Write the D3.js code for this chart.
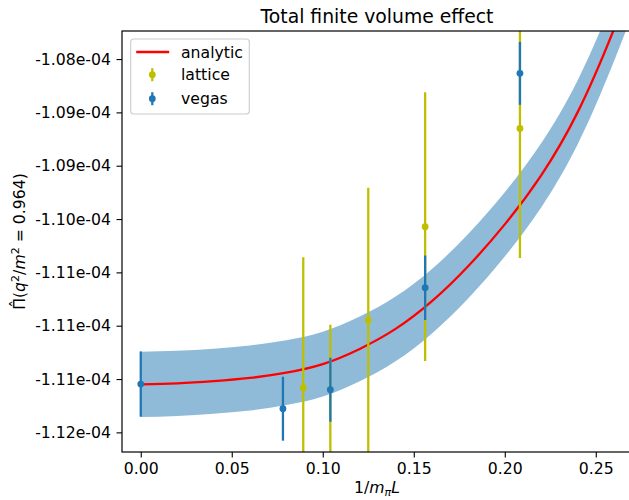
<!DOCTYPE html>
<html>
<head>
<meta charset="utf-8">
<script src="https://cdn.jsdelivr.net/npm/d3@7"></script>
<style>
  body { margin: 0; background: #fff; }
  svg { display: block; font-family: "DejaVu Sans", sans-serif; }
</style>
</head>
<body>
<svg id="chart" width="629" height="500"></svg>
<script>

  //============================================================
  // Data
  //------------------------------------------------------------

  var analyticX = [0, 0.02, 0.04, 0.06, 0.08, 0.10, 0.12, 0.14, 0.16, 0.18, 0.20, 0.22, 0.24, 0.26, 0.28]
    , analyticY = [-1.1155e-4, -1.1154e-4, -1.1152e-4, -1.1149e-4, -1.1144e-4, -1.1136e-4, -1.1122e-4,
                   -1.1103e-4, -1.1077e-4, -1.1044e-4, -1.1005e-4, -1.0959e-4, -1.0900e-4, -1.0822e-4, -1.0733e-4]
    , analyticErr = [3.06e-7, 3.06e-7, 3.05e-7, 3.05e-7, 3.04e-7, 3.04e-7, 3.03e-7,
                     3.03e-7, 3.02e-7, 3.02e-7, 3.01e-7, 3.01e-7, 3.00e-7, 3.00e-7, 3.00e-7]
    ;

  var latticeX = [0.089286, 0.104167, 0.125, 0.15625, 0.208333]
    , latticeY = [-1.11581e-4, -1.12220e-4, -1.10947e-4, -1.10072e-4, -1.09150e-4]
    , latticeErr = [1.222e-6, 1.230e-6, 1.240e-6, 1.260e-6, 1.216e-6]
    ;

  var vegasX = [0, 0.078125, 0.104167, 0.15625, 0.208333]
    , vegasY = [-1.11547e-4, -1.11778e-4, -1.11600e-4, -1.10644e-4, -1.08634e-4]
    , vegasErr = [3.06e-7, 3.00e-7, 3.00e-7, 3.02e-7, 2.95e-7]
    ;

  var xTicks = [0, 0.05, 0.10, 0.15, 0.20, 0.25]
    , yTicks = [-1.085e-4, -1.090e-4, -1.095e-4, -1.100e-4, -1.105e-4, -1.110e-4, -1.115e-4, -1.120e-4]
    , yTickLabels = ['-1.08e-04', '-1.09e-04', '-1.09e-04', '-1.10e-04', '-1.11e-04', '-1.11e-04', '-1.11e-04', '-1.12e-04']
    , legendLabels = ['analytic', 'lattice', 'vegas']
    ;

  //============================================================


  var margin = {top: 31, right: -3, bottom: 48, left: 122}
    , width = 629
    , height = 500
    , availableWidth = width - margin.left - margin.right
    , availableHeight = height - margin.top - margin.bottom
    , fontSize = 15.7
    , blue = '#1f77b4'
    , olive = '#bfbf00'
    , red = '#ff0000'
    ;

  var svg = d3.select('#chart');

  //------------------------------------------------------------
  // Setup Scales

  var x = d3.scaleLinear()
      .domain([-0.0103, 0.2699])
      .range([0, availableWidth]);

  var y = d3.scaleLinear()
      .domain([-1.12184e-4, -1.08237e-4])
      .range([availableHeight, 0]);

  //------------------------------------------------------------

  var g = svg.append('g')
      .attr('transform', 'translate(' + margin.left + ',' + margin.top + ')');

  svg.append('defs').append('clipPath').attr('id', 'plot-clip')
    .append('rect')
      .attr('width', availableWidth)
      .attr('height', availableHeight);

  var plot = g.append('g').attr('clip-path', 'url(#plot-clip)');

  var analytic = analyticX.map(function(d, i) {
    return {x: d, y: analyticY[i], e: analyticErr[i]};
  });

  // uncertainty band
  plot.append('path')
      .datum(analytic)
      .attr('fill', blue)
      .attr('fill-opacity', 0.5)
      .attr('d', d3.area()
        .curve(d3.curveNatural)
        .x(function(d) { return x(d.x) })
        .y0(function(d) { return y(d.y - d.e) })
        .y1(function(d) { return y(d.y + d.e) })
      );

  // analytic line
  plot.append('path')
      .datum(analytic)
      .attr('fill', 'none')
      .attr('stroke', red)
      .attr('stroke-width', 2.3)
      .attr('d', d3.line()
        .curve(d3.curveNatural)
        .x(function(d) { return x(d.x) })
        .y(function(d) { return y(d.y) })
      );

  function errorbars(xs, ys, es, color) {
    var pts = xs.map(function(d, i) { return {x: d, y: ys[i], e: es[i]} });
    var grp = plot.append('g');
    grp.selectAll('line')
        .data(pts)
      .enter().append('line')
        .attr('x1', function(d) { return x(d.x) })
        .attr('x2', function(d) { return x(d.x) })
        .attr('y1', function(d) { return y(d.y - d.e) })
        .attr('y2', function(d) { return y(d.y + d.e) })
        .attr('stroke', color)
        .attr('stroke-width', 2.3);
    grp.selectAll('circle')
        .data(pts)
      .enter().append('circle')
        .attr('cx', function(d) { return x(d.x) })
        .attr('cy', function(d) { return y(d.y) })
        .attr('r', 3.4)
        .attr('fill', color);
  }

  errorbars(latticeX, latticeY, latticeErr, olive);
  errorbars(vegasX, vegasY, vegasErr, blue);

  //------------------------------------------------------------
  // Axes

  var xAxis = d3.axisBottom(x)
      .tickValues(xTicks)
      .tickFormat(d3.format('.2f'))
      .tickSize(5.5)
      .tickSizeOuter(0)
      .tickPadding(5.5);

  var yAxis = d3.axisLeft(y)
      .tickValues(yTicks)
      .tickFormat(function(d, i) { return yTickLabels[i] })
      .tickSize(5.5)
      .tickSizeOuter(0)
      .tickPadding(5.5);

  var xa = g.append('g')
      .attr('transform', 'translate(0,' + availableHeight + ')')
      .call(xAxis);
  var ya = g.append('g').call(yAxis);

  [xa, ya].forEach(function(a) {
    a.select('.domain').remove();
    a.selectAll('.tick line').attr('stroke', '#000').attr('stroke-width', 1.1);
    a.selectAll('.tick text')
        .attr('fill', '#000')
        .style('font-size', fontSize + 'px')
        .style('font-family', '"DejaVu Sans", sans-serif');
  });

  // spines
  g.append('rect')
      .attr('width', availableWidth)
      .attr('height', availableHeight)
      .attr('fill', 'none')
      .attr('stroke', '#000')
      .attr('stroke-width', 1.2);

  //------------------------------------------------------------
  // Title and axis labels

  svg.append('text')
      .attr('x', margin.left + availableWidth / 2)
      .attr('y', 22.5)
      .attr('text-anchor', 'middle')
      .style('font-size', '18.8px')
      .text('Total finite volume effect');

  var xl = svg.append('text')
      .attr('x', margin.left + availableWidth / 2)
      .attr('y', 493)
      .attr('text-anchor', 'middle')
      .style('font-size', fontSize + 'px');
  xl.append('tspan').text('1/');
  xl.append('tspan').attr('font-style', 'italic').text('m');
  xl.append('tspan').attr('font-style', 'italic').attr('font-size', '11px').attr('dy', 3).text('π');
  xl.append('tspan').attr('font-style', 'italic').attr('dy', -3).text('L');

  var yl = svg.append('text')
      .attr('transform', 'translate(25,' + (margin.top + availableHeight / 2) + ') rotate(-90)')
      .attr('text-anchor', 'middle')
      .style('font-size', fontSize + 'px');
  yl.append('tspan').text('\u03A0');
  // hat over Pi, placed by hand since combining marks render poorly
  yl.append('tspan').attr('dx', -9.8).attr('dy', -3.5).text('\u02C6');
  yl.append('tspan').attr('dx', 2).attr('dy', 3.5).text('(');
  yl.append('tspan').attr('font-style', 'italic').text('q');
  yl.append('tspan').attr('font-size', '11px').attr('dy', -6).text('2');
  yl.append('tspan').attr('dy', 6).text('/');
  yl.append('tspan').attr('font-style', 'italic').text('m');
  yl.append('tspan').attr('font-size', '11px').attr('dy', -6).text('2');
  yl.append('tspan').attr('dy', 6).text(' = 0.964)');

  //------------------------------------------------------------
  // Legend

  var lg = svg.append('g').attr('transform', 'translate(130.7,39)');
  lg.append('rect')
      .attr('width', 118.6)
      .attr('height', 75)
      .attr('rx', 3)
      .attr('fill', '#fff')
      .attr('fill-opacity', 0.8)
      .attr('stroke', '#cccccc')
      .attr('stroke-width', 1.1);

  var rowY = [13, 35.7, 59.7];
  lg.append('line')
      .attr('x1', 5.5).attr('x2', 38.5)
      .attr('y1', rowY[0]).attr('y2', rowY[0])
      .attr('stroke', red).attr('stroke-width', 2.3);
  [olive, blue].forEach(function(c, i) {
    lg.append('line')
        .attr('x1', 21.6).attr('x2', 21.6)
        .attr('y1', rowY[i + 1] - 6.5).attr('y2', rowY[i + 1] + 6.5)
        .attr('stroke', c).attr('stroke-width', 2.3);
    lg.append('circle')
        .attr('cx', 21.6).attr('cy', rowY[i + 1])
        .attr('r', 3.4).attr('fill', c);
  });
  lg.selectAll('text.lbl')
      .data(legendLabels)
    .enter().append('text')
      .attr('class', 'lbl')
      .attr('x', 50.3)
      .attr('y', function(d, i) { return rowY[i] + 5.5 })
      .style('font-size', fontSize + 'px')
      .text(function(d) { return d });

</script>
</body>
</html>
